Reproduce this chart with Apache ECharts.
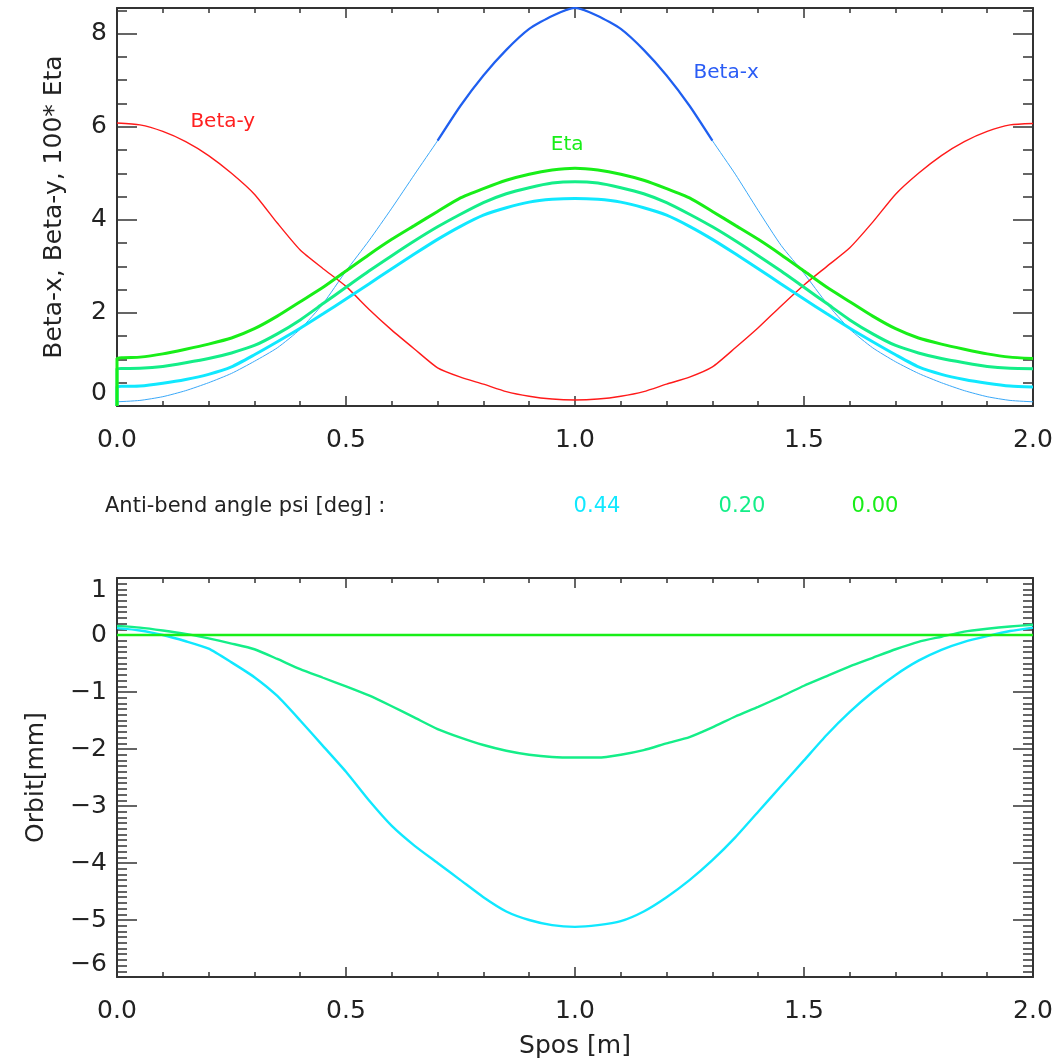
<!DOCTYPE html>
<html>
<head>
<meta charset="utf-8">
<script src="https://cdn.jsdelivr.net/npm/echarts@6/dist/echarts.min.js"></script>
<style>html,body{margin:0;padding:0;background:#fff}#c{width:1064px;height:1063px}</style>
</head>
<body>
<div id="c"></div>
<script>
// ---- data ----
const sPos = [0.00,0.05,0.10,0.15,0.20,0.25,0.30,0.35,0.40,0.45,0.50,0.55,0.60,0.65,0.70,0.75,0.80,0.85,0.90,0.95,1.00,
              1.05,1.10,1.15,1.20,1.25,1.30,1.35,1.40,1.45,1.50,1.55,1.60,1.65,1.70,1.75,1.80,1.85,1.90,1.95,2.00];

const betaX = [0.09,0.12,0.20,0.33,0.50,0.70,0.96,1.25,1.65,2.20,2.90,3.55,4.25,4.98,5.70,6.45,7.10,7.65,8.10,8.38,8.55,
               8.38,8.10,7.65,7.10,6.45,5.70,4.98,4.20,3.45,2.85,2.20,1.65,1.25,0.95,0.70,0.50,0.33,0.20,0.12,0.09];
const betaY = [6.08,6.04,5.90,5.68,5.38,5.00,4.55,3.93,3.35,2.95,2.57,2.08,1.63,1.22,0.82,0.62,0.47,0.31,0.21,0.15,0.13,
               0.15,0.21,0.31,0.47,0.62,0.84,1.25,1.68,2.15,2.60,3.00,3.40,3.95,4.55,5.00,5.38,5.68,5.90,6.04,6.07];
const etaPsi000 = [1.02,1.05,1.12,1.22,1.33,1.46,1.66,1.93,2.24,2.55,2.90,3.25,3.58,3.88,4.18,4.47,4.67,4.85,4.98,5.07,5.11,
                   5.07,4.98,4.85,4.67,4.47,4.18,3.88,3.58,3.25,2.90,2.55,2.24,1.93,1.66,1.46,1.33,1.22,1.12,1.05,1.02];
const etaPsi020 = [0.80,0.81,0.85,0.93,1.02,1.14,1.30,1.55,1.85,2.20,2.55,2.90,3.23,3.55,3.85,4.12,4.37,4.56,4.69,4.79,4.82,
                   4.79,4.69,4.56,4.37,4.12,3.85,3.55,3.23,2.90,2.55,2.20,1.85,1.55,1.30,1.14,1.02,0.93,0.85,0.81,0.80];
const etaPsi044 = [0.41,0.43,0.49,0.57,0.68,0.84,1.10,1.38,1.67,1.98,2.30,2.62,2.95,3.27,3.58,3.86,4.10,4.26,4.38,4.44,4.46,
                   4.44,4.38,4.26,4.10,3.86,3.58,3.27,2.95,2.62,2.30,1.98,1.67,1.38,1.10,0.84,0.68,0.57,0.49,0.43,0.41];
const etaStart = [0, 0]; // each eta curve starts from (0, 0)

const orbitPsi044 = [0.12,0.08,0.00,-0.11,-0.24,-0.48,-0.74,-1.07,-1.50,-1.95,-2.40,-2.90,-3.35,-3.70,-4.00,-4.30,-4.60,-4.85,-5.00,-5.09,-5.12,
                     -5.09,-5.02,-4.85,-4.60,-4.30,-3.95,-3.55,-3.10,-2.65,-2.20,-1.75,-1.35,-1.00,-0.70,-0.45,-0.26,-0.12,-0.02,0.07,0.13];
const orbitPsi020 = [0.16,0.13,0.08,0.02,-0.06,-0.15,-0.25,-0.42,-0.60,-0.75,-0.90,-1.06,-1.25,-1.45,-1.65,-1.80,-1.93,-2.03,-2.10,-2.14,-2.15,
                     -2.15,-2.10,-2.02,-1.90,-1.79,-1.62,-1.43,-1.26,-1.08,-0.89,-0.72,-0.55,-0.40,-0.25,-0.12,-0.03,0.06,0.11,0.15,0.18];
const orbitPsi000 = [0,0,0,0,0,0,0,0,0,0,0,0,0,0,0,0,0,0,0,0,0,0,0,0,0,0,0,0,0,0,0,0,0,0,0,0,0,0,0,0,0];

const psiLabels = ['0.44', '0.20', '0.00'];
const psiColors = ['#10e8ff', '#14ee88', '#18ee18'];
const topYTicks = {min: 0, max: 8.55, interval: 2};
const botYTicks = {min: -6, max: 1, interval: 1};
const xTicks = {min: 0, max: 2, interval: 0.5};

// ---- build ----
const FONT = 'DejaVu Sans';
const AXC = '#333';
const pairs = (ys) => sPos.map((s, i) => [s, ys[i]]);

function xAx(grid, pos, labels) {
  return {
    type: 'value', gridIndex: grid, position: pos, min: xTicks.min, max: xTicks.max, interval: xTicks.interval,
    axisLine: {show: true, onZero: false, lineStyle: {color: AXC, width: 2}},
    axisTick: {show: true, inside: true, length: 10, lineStyle: {color: AXC, width: 1.5}},
    minorTick: {show: true, splitNumber: 5, length: 5, lineStyle: {color: AXC, width: 1.5}},
    axisLabel: {show: labels, margin: 22, fontFamily: FONT, fontSize: 25, color: '#222',
                formatter: v => v.toFixed(1)},
    splitLine: {show: false}, minorSplitLine: {show: false}
  };
}
function yAx(grid, pos, labels, t, minorSplit, name, nameGap) {
  return {
    type: 'value', gridIndex: grid, position: pos, min: t.min, max: t.max, interval: t.interval,
    name: labels ? name : '', nameLocation: 'middle', nameGap: nameGap, nameRotate: 90,
    nameTextStyle: {fontFamily: FONT, fontSize: 25, color: '#222'},
    axisLine: {show: true, onZero: false, lineStyle: {color: AXC, width: 2}},
    axisTick: {show: true, inside: true, length: 20, lineStyle: {color: AXC, width: 1.5}},
    minorTick: {show: true, splitNumber: minorSplit, length: 10, lineStyle: {color: AXC, width: 1.5}},
    axisLabel: {show: labels, margin: 10, fontFamily: FONT, fontSize: 25, color: '#222',
                showMaxLabel: t.max % t.interval === 0,
                verticalAlignMinLabel: 'bottom', verticalAlignMaxLabel: 'top',
                formatter: v => (v < 0 ? '\u2212' + Math.abs(v) : String(v))},
    splitLine: {show: false}, minorSplitLine: {show: false}
  };
}
function line(name, data, color, width, xi, yi, extra) {
  return Object.assign({
    type: 'line', name: name, data: data, xAxisIndex: xi, yAxisIndex: yi,
    showSymbol: false, symbol: 'none', smooth: 0.2, animation: false, silent: true,
    lineStyle: {color: color, width: width}, itemStyle: {color: color}, z: 3
  }, extra || {});
}
function tag(text, coord, color) {
  return {symbol: 'circle', symbolSize: 0, silent: true, animation: false,
          label: {show: true, position: 'inside', fontFamily: FONT, fontSize: 20, color: color},
          data: [{coord: coord, value: 0, label: {formatter: text}}]};
}

const betaXThick = pairs(betaX).filter(p => p[0] >= 0.68 && p[0] <= 1.32);

const option = {
  backgroundColor: '#fff',
  animation: false,
  grid: [
    {left: 117, top: 8, width: 916, height: 398, containLabel: false, outerBoundsMode: 'none'},
    {left: 117, top: 578, width: 916, height: 399, containLabel: false, outerBoundsMode: 'none'}
  ],
  xAxis: [xAx(0, 'bottom', true), xAx(0, 'top', false),
          Object.assign(xAx(1, 'bottom', true), {name: 'Spos [m]', nameLocation: 'middle', nameGap: 57,
                         nameTextStyle: {fontFamily: FONT, fontSize: 25, color: '#222'}}),
          xAx(1, 'top', false)],
  yAxis: [yAx(0, 'left', true, topYTicks, 4, 'Beta-x, Beta-y, 100* Eta', 50),
          yAx(0, 'right', false, topYTicks, 4, '', 0),
          yAx(1, 'left', true, botYTicks, 10, 'Orbit[mm]', 68),
          yAx(1, 'right', false, botYTicks, 10, '', 0)],
  series: [
    line('Beta-x', pairs(betaX), '#3aa8f8', 1, 0, 0, {markPoint: tag('Beta-x', [1.33, 7.15], '#2a5cf5')}),
    line('Beta-x core', betaXThick, '#1f5ff0', 2.2, 0, 0),
    line('Beta-y', pairs(betaY), '#ff1a1a', 1.4, 0, 0, {markPoint: tag('Beta-y', [0.231, 6.1], '#ff2020')}),
    line('Eta psi 0.44', [etaStart].concat(pairs(etaPsi044)), psiColors[0], 3, 0, 0),
    line('Eta psi 0.20', [etaStart].concat(pairs(etaPsi020)), psiColors[1], 3, 0, 0),
    line('Eta psi 0.00', [etaStart].concat(pairs(etaPsi000)), psiColors[2], 3, 0, 0,
         {markPoint: tag('Eta', [0.983, 5.62], psiColors[2])}),
    line('Orbit psi 0.44', pairs(orbitPsi044), psiColors[0], 2.4, 2, 2),
    line('Orbit psi 0.20', pairs(orbitPsi020), psiColors[1], 2.4, 2, 2),
    line('Orbit psi 0.00', pairs(orbitPsi000), psiColors[2], 2.4, 2, 2)
  ],
  graphic: [
    {type: 'text', x: 105, y: 507, silent: true,
     style: {text: 'Anti-bend angle psi [deg] :', font: '21px "DejaVu Sans"', fill: '#222',
             align: 'left', verticalAlign: 'middle'}}
  ].concat(psiLabels.map((t, i) => ({
    type: 'text', x: [597, 742, 875][i], y: 507, silent: true,
    style: {text: t, font: '21px "DejaVu Sans"', fill: psiColors[i], align: 'center', verticalAlign: 'middle'}
  })))
};

const chart = echarts.init(document.getElementById('c'), null, {renderer: 'canvas'});
chart.setOption(option);
</script>
</body>
</html>
